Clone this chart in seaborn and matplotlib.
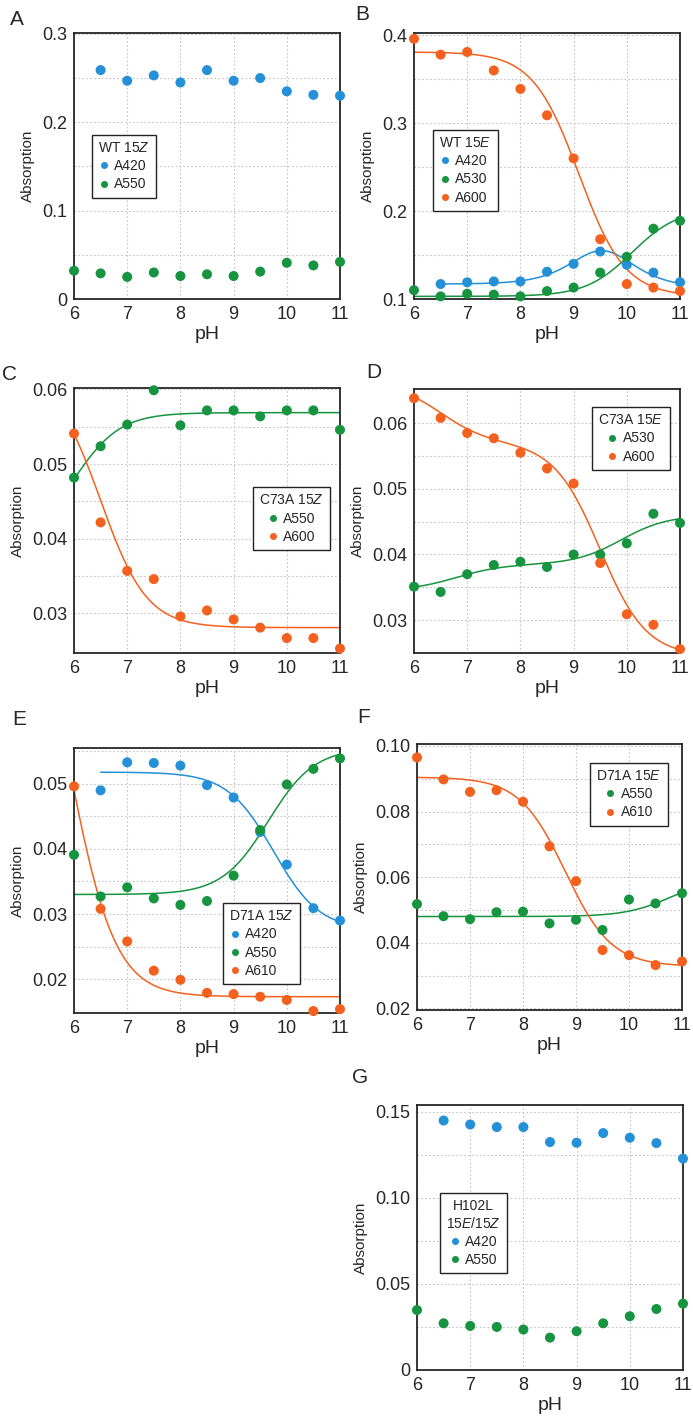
import numpy as np
import pandas as pd
import matplotlib
matplotlib.use('Agg')
import matplotlib.pyplot as plt
import seaborn as sns

BLUE = '#2490d8'
GREEN = '#17943f'
ORANGE = '#f4611f'
palette = {'A420': BLUE, 'A530': GREEN, 'A550': GREEN, 'A600': ORANGE, 'A610': ORANGE}

ph_all = [6, 6.5, 7, 7.5, 8, 8.5, 9, 9.5, 10, 10.5, 11]
ph_hi = ph_all[1:]

# A  WT 15Z
wt15z_a420 = [0.259, 0.247, 0.253, 0.245, 0.259, 0.247, 0.250, 0.235, 0.231, 0.230]
wt15z_a550 = [0.032, 0.029, 0.025, 0.030, 0.026, 0.028, 0.026, 0.031, 0.041, 0.038, 0.042]

# B  WT 15E
wt15e_a420 = [0.117, 0.119, 0.120, 0.120, 0.131, 0.140, 0.154, 0.139, 0.130, 0.119]
wt15e_a530 = [0.110, 0.103, 0.106, 0.105, 0.103, 0.109, 0.113, 0.130, 0.148, 0.180, 0.189]
wt15e_a600 = [0.396, 0.378, 0.381, 0.360, 0.339, 0.309, 0.260, 0.168, 0.117, 0.113, 0.109]

# C  C73A 15Z
c73a15z_a550 = [0.0482, 0.0524, 0.0553, 0.0599, 0.0552, 0.0572, 0.0572, 0.0564, 0.0572, 0.0572, 0.0546]
c73a15z_a600 = [0.0541, 0.0422, 0.0357, 0.0346, 0.0296, 0.0304, 0.0292, 0.0281, 0.0267, 0.0267, 0.0253]

# D  C73A 15E
c73a15e_a530 = [0.0351, 0.0343, 0.0370, 0.0384, 0.0389, 0.0381, 0.0400, 0.0400, 0.0417, 0.0462, 0.0448]
c73a15e_a600 = [0.0638, 0.0608, 0.0585, 0.0577, 0.0555, 0.0531, 0.0508, 0.0387, 0.0309, 0.0293, 0.0256]

# E  D71A 15Z
d71a15z_a420 = [0.0490, 0.0533, 0.0532, 0.0528, 0.0498, 0.0479, 0.0426, 0.0376, 0.0309, 0.0290]
d71a15z_a550 = [0.0391, 0.0327, 0.0341, 0.0324, 0.0314, 0.0320, 0.0359, 0.0429, 0.0499, 0.0523, 0.0539]
d71a15z_a610 = [0.0496, 0.0308, 0.0258, 0.0213, 0.0199, 0.0179, 0.0177, 0.0173, 0.0168, 0.0151, 0.0154]

# F  D71A 15E
d71a15e_a550 = [0.0518, 0.0481, 0.0472, 0.0493, 0.0495, 0.0459, 0.0470, 0.0439, 0.0532, 0.0520, 0.0551]
d71a15e_a610 = [0.0965, 0.0898, 0.0860, 0.0865, 0.0830, 0.0694, 0.0588, 0.0378, 0.0362, 0.0332, 0.0343]

# G  H102L 15E/15Z
h102l_a420 = [0.1448, 0.1425, 0.1410, 0.1410, 0.1323, 0.1319, 0.1375, 0.1348, 0.1317, 0.1227]
h102l_a550 = [0.0348, 0.0271, 0.0256, 0.0250, 0.0235, 0.0188, 0.0225, 0.0271, 0.0312, 0.0354, 0.0385]

# titration fit parameters
# one pKa: (acid value, base value, pKa); two pKa: (v0, v1, v2, pK1, pK2)
fit_wt15e_a420 = (0.117, 0.2117, 0.113, 9.4, 9.7)
fit_wt15e_a530 = (0.103, 0.203, 10.1)
fit_wt15e_a600 = (0.381, 0.103, 9.1)
fit_c73a15z_a550 = (0.0391, 0.0569, 6.0)
fit_c73a15z_a600 = (0.0622, 0.0281, 6.5)
fit_c73a15e_a530 = (0.0345, 0.0385, 0.0460, 6.8, 9.9)
fit_c73a15e_a600 = (0.0662, 0.0570, 0.0245, 6.5, 9.5)
fit_d71a15z_a420 = (0.0518, 0.0275, 9.75)
fit_d71a15z_a550 = (0.0330, 0.0555, 9.65)
fit_d71a15z_a610 = (0.0890, 0.0173, 5.9)
fit_d71a15e_a550 = (0.0480, 0.0600, 10.8)
fit_d71a15e_a610 = (0.0905, 0.0328, 8.8)


def titration(x, p):
    if len(p) == 3:
        acid, base, pka = p
        return base + (acid - base) / (1 + 10 ** (x - pka))
    v0, v1, v2, pk1, pk2 = p
    r1 = 10 ** (x - pk1)
    r12 = r1 * 10 ** (x - pk2)
    return (v0 + v1 * r1 + v2 * r12) / (1 + r1 + r12)


sns.set_style('white')
plt.rcParams['font.family'] = ['Liberation Sans', 'DejaVu Sans']
plt.rcParams['mathtext.fontset'] = 'custom'
plt.rcParams['mathtext.rm'] = 'Liberation Sans'
plt.rcParams['mathtext.it'] = 'Liberation Sans:italic'

W, H = 693, 1421
fig = plt.figure(figsize=(W / 100, H / 100), dpi=100)


def panel(box, letter, letter_pos, series, fits, ylim, yticks, ylabels, minor,
          title, leg_anchor, leg_align):
    x0, y0, x1, y1 = box
    ax = fig.add_axes([x0 / W, 1 - y1 / H, (x1 - x0) / W, (y1 - y0) / H])
    rows = []
    for name, xs, ys in series:
        rows.append(pd.DataFrame({'pH': xs, 'Absorption': ys, 'series': name}))
    df = pd.concat(rows, ignore_index=True)
    order = [s[0] for s in series]
    for name, start, p in fits:
        grid = np.linspace(start, 11, 200)
        sns.lineplot(x=grid, y=titration(grid, p), color=palette[name],
                     lw=1.1, ax=ax, zorder=2)
    sns.scatterplot(data=df, x='pH', y='Absorption', hue='series', hue_order=order,
                    palette=palette, s=52, edgecolor='none', linewidth=0,
                    ax=ax, zorder=3, clip_on=False)
    old = ax.get_legend()
    handles = old.legend_handles
    labels = [t.get_text() for t in old.get_texts()]
    old.remove()
    leg = ax.legend(handles, labels, title=title, loc='upper left',
                    bbox_to_anchor=leg_anchor, frameon=True, fancybox=False,
                    edgecolor='#222222', framealpha=1, fontsize=10,
                    title_fontsize=10, handletextpad=0.35, borderpad=0.45,
                    labelspacing=0.3, handlelength=0.8, markerscale=0.7,
                    borderaxespad=0, alignment=leg_align)
    leg.get_frame().set_linewidth(1.0)
    leg.get_title().set_multialignment('center')

    ax.set_xlim(6, 11)
    ax.set_ylim(*ylim)
    ax.set_xticks([6, 7, 8, 9, 10, 11])
    ax.set_xticklabels(['6', '7', '8', '9', '10', '11'])
    ax.set_yticks(yticks)
    ax.set_yticklabels(ylabels)
    ax.set_yticks(minor, minor=True)
    ax.tick_params(axis='both', which='both', length=0, labelsize=13, pad=5)
    ax.grid(True, which='both', color='#c4c4c4', lw=0.8, ls=(0, (1.5, 2)))
    ax.set_axisbelow(True)
    for sp in ax.spines.values():
        sp.set_visible(True)
        sp.set_color('#262626')
        sp.set_linewidth(1.3)
    ax.set_xlabel('pH', fontsize=14, labelpad=2)
    ax.set_ylabel('Absorption', fontsize=11, labelpad=5)
    fig.text(letter_pos[0] / W, 1 - letter_pos[1] / H, letter, fontsize=15,
             ha='left', va='baseline')
    return ax


panel((74, 33, 340, 299), 'A', (10, 25),
      [('A420', ph_hi, wt15z_a420), ('A550', ph_all, wt15z_a550)], [],
      (0, 0.301), [0, 0.1, 0.2, 0.3], ['0', '0.1', '0.2', '0.3'],
      [0.05, 0.15, 0.25], 'WT $\\it{15Z}$', (0.068, 0.617), 'left')

panel((414, 33, 680, 299), 'B', (355, 20),
      [('A420', ph_hi, wt15e_a420), ('A530', ph_all, wt15e_a530),
       ('A600', ph_all, wt15e_a600)],
      [('A420', 6.5, fit_wt15e_a420), ('A530', 6, fit_wt15e_a530),
       ('A600', 6, fit_wt15e_a600)],
      (0.1, 0.4026), [0.1, 0.2, 0.3, 0.4], ['0.1', '0.2', '0.3', '0.4'],
      [0.15, 0.25, 0.35], 'WT $\\it{15E}$', (0.071, 0.636), 'left')

panel((74, 388, 340, 653), 'C', (2, 380),
      [('A550', ph_all, c73a15z_a550), ('A600', ph_all, c73a15z_a600)],
      [('A550', 6, fit_c73a15z_a550), ('A600', 6, fit_c73a15z_a600)],
      (0.0247, 0.0602), [0.03, 0.04, 0.05, 0.06], ['0.03', '0.04', '0.05', '0.06'],
      [0.035, 0.045, 0.055], 'C73A $\\it{15Z}$', (0.673, 0.626), 'center')

panel((414, 389, 680, 653), 'D', (366, 378),
      [('A530', ph_all, c73a15e_a530), ('A600', ph_all, c73a15e_a600)],
      [('A530', 6, fit_c73a15e_a530), ('A600', 6, fit_c73a15e_a600)],
      (0.025, 0.0652), [0.03, 0.04, 0.05, 0.06], ['0.03', '0.04', '0.05', '0.06'],
      [0.035, 0.045, 0.055], 'C73A $\\it{15E}$', (0.669, 0.932), 'center')

panel((74, 748, 340, 1013), 'E', (12, 725),
      [('A420', ph_hi, d71a15z_a420), ('A550', ph_all, d71a15z_a550),
       ('A610', ph_all, d71a15z_a610)],
      [('A420', 6.5, fit_d71a15z_a420), ('A550', 6, fit_d71a15z_a550),
       ('A610', 6, fit_d71a15z_a610)],
      (0.0148, 0.0555), [0.02, 0.03, 0.04, 0.05], ['0.02', '0.03', '0.04', '0.05'],
      [0.025, 0.035, 0.045, 0.055], 'D71A $\\it{15Z}$', (0.56, 0.415), 'left')

panel((417, 744, 682, 1010), 'F', (357, 723),
      [('A550', ph_all, d71a15e_a550), ('A610', ph_all, d71a15e_a610)],
      [('A550', 6, fit_d71a15e_a550), ('A610', 6, fit_d71a15e_a610)],
      (0.0195, 0.1006), [0.02, 0.04, 0.06, 0.08, 0.10],
      ['0.02', '0.04', '0.06', '0.08', '0.10'],
      [0.03, 0.05, 0.07, 0.09], 'D71A $\\it{15E}$', (0.653, 0.929), 'center')

panel((417, 1105, 683, 1370), 'G', (352, 1083),
      [('A420', ph_hi, h102l_a420), ('A550', ph_all, h102l_a550)], [],
      (0, 0.1538), [0, 0.05, 0.10, 0.15], ['0', '0.05', '0.10', '0.15'],
      [0.025, 0.075, 0.125], 'H102L\n$\\it{15E/15Z}$', (0.086, 0.668), 'center')

fig.savefig('out.png', dpi=100)
